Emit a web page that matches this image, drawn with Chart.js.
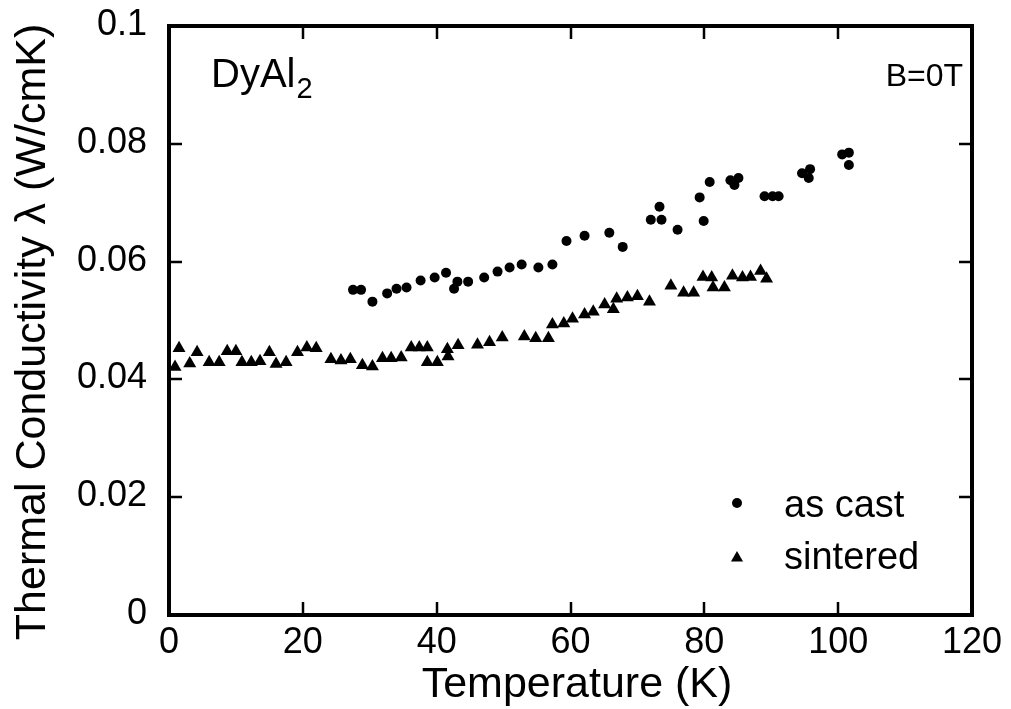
<!DOCTYPE html>
<html>
<head>
<meta charset="utf-8">
<script src="https://cdn.jsdelivr.net/npm/chart.js@4.4.1/dist/chart.umd.min.js"></script>
<style>
    html, body { margin: 0; padding: 0; background: #fff; }
    #wrap { width: 1011px; height: 709px; }
</style>
</head>
<body>
<div id="wrap"><canvas id="chart" width="1011" height="709"></canvas></div>
<script>
// as cast (circles)
const castT = [27.5, 28.7, 30.4, 32.6, 34.0, 35.5, 37.6, 39.7, 41.4, 42.6, 43.1, 44.7, 47.1, 49.1,
    50.9, 52.7, 55.2, 57.3, 59.4, 62.1, 65.8, 67.8, 72.0, 73.3, 73.6, 76.0, 79.3, 79.9, 80.8,
    83.9, 85.1, 84.5, 89.0, 90.2, 91.1, 94.6, 95.8, 95.6, 100.6, 101.6, 101.6];
const castK = [0.0552, 0.0552, 0.0532, 0.0546, 0.0554, 0.0556, 0.0568, 0.0573, 0.0581, 0.0554, 0.0566,
    0.0566, 0.0573, 0.0583, 0.0590, 0.0595, 0.0590, 0.0595, 0.0635, 0.0644, 0.0649, 0.0625, 0.0671,
    0.0693, 0.0671, 0.0654, 0.0709, 0.0669, 0.0735, 0.0738, 0.0742, 0.0730, 0.0711, 0.0711, 0.0711,
    0.0750, 0.0757, 0.0742, 0.0782, 0.0785, 0.0764];

// sintered (triangles)
const sintT = [0.9, 1.5, 3.1, 4.2, 6.0, 7.5, 8.7, 10.0, 10.9, 12.3, 13.6, 15.0, 16.0, 17.5, 19.2,
    20.6, 22.0, 24.2, 25.7, 27.1, 28.9, 30.4, 31.9, 33.2, 34.7, 36.2, 37.4, 38.6, 38.6, 40.1,
    41.6, 41.7, 43.2, 46.1, 47.9, 49.8, 53.1, 54.8, 56.7, 57.3, 59.0, 60.3, 62.1, 63.4, 65.1,
    66.4, 66.9, 68.5, 70.0, 71.8, 75.0, 76.9, 78.4, 79.8, 81.1, 81.3, 83.0, 84.2, 85.7, 86.9,
    88.4, 89.3];
const sintK = [0.0421, 0.0453, 0.0427, 0.0446, 0.0429, 0.0429, 0.0448, 0.0448, 0.0429, 0.0429, 0.0431,
    0.0446, 0.0426, 0.0429, 0.0446, 0.0454, 0.0453, 0.0434, 0.0432, 0.0434, 0.0424, 0.0422, 0.0436,
    0.0436, 0.0437, 0.0454, 0.0454, 0.0454, 0.0429, 0.0429, 0.0451, 0.0439, 0.0458, 0.0459, 0.0463,
    0.0471, 0.0473, 0.0470, 0.0470, 0.0493, 0.0495, 0.0503, 0.0510, 0.0515, 0.0527, 0.0519, 0.0537,
    0.0539, 0.0541, 0.0532, 0.0559, 0.0547, 0.0547, 0.0574, 0.0573, 0.0556, 0.0556, 0.0576, 0.0573,
    0.0574, 0.0584, 0.0571];

const xTicks = [0, 20, 40, 60, 80, 100, 120];
const yTicks = [0, 0.02, 0.04, 0.06, 0.08, 0.1];

const FONT = "'Liberation Sans', Arial, sans-serif";

function toPoints(xs, ys) {
    return xs.map((x, i) => ({ x: x, y: ys[i] }));
}

function fmtY(v) {
    return v === 0 ? "0" : String(parseFloat(v.toFixed(2)));
}

// frame, inside ticks, tick labels, titles and text
const framePlugin = {
    id: "frame",
    afterDraw(chart) {
        const ctx = chart.ctx;
        const a = chart.chartArea;
        const xs = chart.scales.x;
        const ys = chart.scales.y;
        const tick = 13;

        ctx.save();
        ctx.strokeStyle = "#000";
        ctx.lineWidth = 2.5;
        xTicks.slice(1, -1).forEach(v => {
            const px = Math.round(xs.getPixelForValue(v));
            ctx.beginPath();
            ctx.moveTo(px, a.bottom); ctx.lineTo(px, a.bottom - tick);
            ctx.moveTo(px, a.top); ctx.lineTo(px, a.top + tick);
            ctx.stroke();
        });
        yTicks.slice(1, -1).forEach(v => {
            const py = Math.round(ys.getPixelForValue(v));
            ctx.beginPath();
            ctx.moveTo(a.left, py); ctx.lineTo(a.left + tick, py);
            ctx.moveTo(a.right, py); ctx.lineTo(a.right - tick, py);
            ctx.stroke();
        });

        ctx.lineWidth = 4;
        ctx.strokeRect(a.left, a.top, a.right - a.left, a.bottom - a.top);

        ctx.fillStyle = "#000";
        ctx.textBaseline = "alphabetic";

        // tick labels
        ctx.font = "36px " + FONT;
        ctx.textAlign = "center";
        xTicks.forEach(v => {
            ctx.fillText(String(v), xs.getPixelForValue(v), a.bottom + 38);
        });
        ctx.textAlign = "right";
        yTicks.forEach(v => {
            ctx.fillText(fmtY(v), a.left - 22, ys.getPixelForValue(v) + 9);
        });

        // axis titles
        ctx.font = "43px " + FONT;
        ctx.textAlign = "center";
        ctx.fillText("Temperature (K)", 577, 697);
        ctx.save();
        ctx.translate(45, 332);
        ctx.rotate(-Math.PI / 2);
        ctx.fillText("Thermal Conductivity λ (W/cmK)", 0, 0);
        ctx.restore();

        // sample label
        ctx.font = "40px " + FONT;
        ctx.textAlign = "left";
        ctx.fillText("DyAl", 211, 87);
        const w = ctx.measureText("DyAl").width;
        ctx.font = "29px " + FONT;
        ctx.fillText("2", 211 + w + 1, 98);

        ctx.font = "32px " + FONT;
        ctx.textAlign = "right";
        ctx.fillText("B=0T", 963, 86);

        // legend
        ctx.font = "38px " + FONT;
        ctx.textAlign = "left";
        const lx = 737;
        ctx.beginPath();
        ctx.arc(lx, 503, 5, 0, Math.PI * 2);
        ctx.fill();
        ctx.fillText("as cast", 784, 517);

        const r = 7, ty = 558;
        ctx.beginPath();
        ctx.moveTo(lx, ty - r);
        ctx.lineTo(lx + r * Math.sin(2 * Math.PI / 3), ty - r * Math.cos(2 * Math.PI / 3));
        ctx.lineTo(lx + r * Math.sin(4 * Math.PI / 3), ty - r * Math.cos(4 * Math.PI / 3));
        ctx.closePath();
        ctx.fill();
        ctx.fillText("sintered", 784, 569);
        ctx.restore();
    }
};

new Chart(document.getElementById("chart"), {
    type: "scatter",
    data: {
        datasets: [
            {
                label: "as cast",
                data: toPoints(castT, castK),
                pointStyle: "circle",
                pointRadius: 5,
                backgroundColor: "#000",
                borderColor: "#000",
                borderWidth: 0
            },
            {
                label: "sintered",
                data: toPoints(sintT, sintK),
                pointStyle: "triangle",
                pointRadius: 7.5,
                backgroundColor: "#000",
                borderColor: "#000",
                borderWidth: 0
            }
        ]
    },
    options: {
        responsive: false,
        animation: false,
        events: [],
        layout: { padding: { top: 26, right: 39, left: 0, bottom: 0 } },
        plugins: {
            legend: { display: false },
            tooltip: { enabled: false }
        },
        scales: {
            x: {
                type: "linear",
                min: 0,
                max: 120,
                afterBuildTicks: s => { s.ticks = xTicks.map(v => ({ value: v })); },
                afterFit: s => { s.height = 94; },
                grid: { display: false, drawTicks: false },
                border: { display: false },
                ticks: { display: false },
                title: { display: false }
            },
            y: {
                type: "linear",
                min: 0,
                max: 0.1,
                afterBuildTicks: s => { s.ticks = yTicks.map(v => ({ value: v })); },
                afterFit: s => { s.width = 169; },
                grid: { display: false, drawTicks: false },
                border: { display: false },
                ticks: { display: false },
                title: { display: false }
            }
        }
    },
    plugins: [framePlugin]
});
</script>
</body>
</html>
